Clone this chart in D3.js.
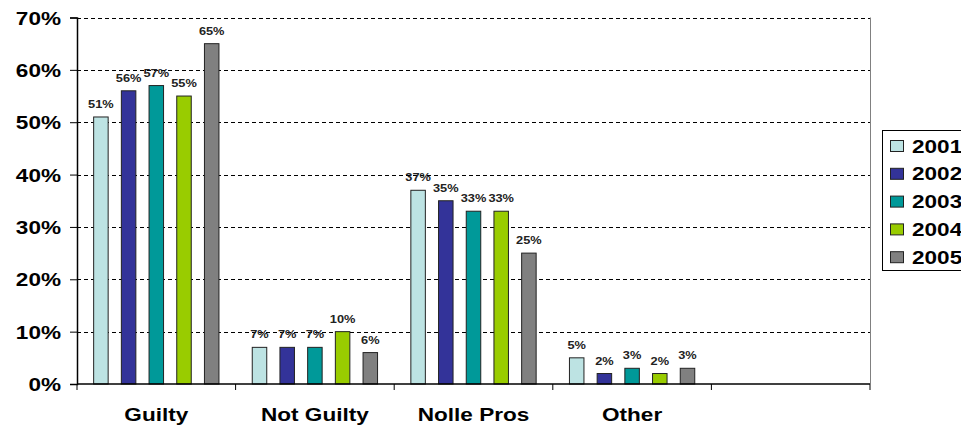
<!DOCTYPE html>
<html><head><meta charset="utf-8">
<script src="https://cdn.jsdelivr.net/npm/d3@7"></script>
<style>body{margin:0;background:#fff}svg{display:block;font-family:"Liberation Sans",Arial,sans-serif}</style>
</head><body><svg id="c" width="961" height="426"></svg>
<script>
const categories = ["Guilty","Not Guilty","Nolle Pros","Other",""];
const years = ["2001","2002","2003","2004","2005"];
const v2001 = [51,7,37,5,null];
const v2002 = [56,7,35,2,null];
const v2003 = [57,7,33,3,null];
const v2004 = [55,10,33,2,null];
const v2005 = [65,6,25,3,null];
const yTicks = [0,10,20,30,40,50,60,70];
const colors = ["#BDE3E3","#333399","#009999","#99CC00","#808080"];
const series = [v2001,v2002,v2003,v2004,v2005];

const K = 1.22; // horizontal text stretch
function stretch(sel){
  sel.each(function(){
    const t = d3.select(this);
    const x = +t.attr("x")||0, y = +t.attr("y")||0;
    t.attr("transform",`translate(${x},${y}) scale(${K},1)`).attr("x",0).attr("y",0);
  });
}

const svg = d3.select("#c");
const L=77, R=870, T=17.5, B=384;
const x = d3.scaleBand().domain(categories.map((c,i)=>i)).range([L,R]).padding(0);
const y = d3.scaleLinear().domain([0,70]).range([B,T]);
const pitch = 27.7, bw = 14.5;

// gridlines
svg.append("g").selectAll("line").data(yTicks.filter(t=>t>0)).join("line")
  .attr("x1",L).attr("x2",R).attr("y1",d=>Math.round(y(d))+0.5).attr("y2",d=>Math.round(y(d))+0.5)
  .attr("stroke","#000").attr("stroke-width",1).attr("stroke-dasharray","4,3");
// right border
svg.append("line").attr("x1",R+0.5).attr("x2",R+0.5).attr("y1",T).attr("y2",B).attr("stroke","#808080");

// y axis
const ya = svg.append("g").attr("transform",`translate(${L},0)`)
  .call(d3.axisLeft(y).tickValues(yTicks).tickFormat(d=>d+"%").tickSize(7).tickPadding(9));
ya.select(".domain").attr("stroke","#000").attr("stroke-width",1.5);
ya.selectAll("text").attr("font-size",18.5).attr("font-weight","bold").attr("fill","#000").attr("dy","0.36em")
  .style("font-family",'"Liberation Sans",Arial,sans-serif');
stretch(ya.selectAll("text"));

// bars
series.forEach((s,si)=>{
  const g = svg.append("g");
  const data = s.map((v,i)=>({v,i})).filter(d=>d.v!=null);
  g.selectAll("rect").data(data).join("rect")
    .attr("x",d=>x(d.i)+x.bandwidth()/2+(si-2)*pitch-bw/2)
    .attr("width",bw)
    .attr("y",d=>y(d.v)).attr("height",d=>B-y(d.v))
    .attr("fill",colors[si]).attr("stroke","#222").attr("stroke-width",1);
  const lab = g.selectAll("text").data(data).join("text")
    .attr("x",d=>x(d.i)+x.bandwidth()/2+(si-2)*pitch)
    .attr("y",d=>y(d.v)-9)
    .attr("text-anchor","middle").attr("font-size",10.5).attr("font-weight","bold").attr("fill","#222")
    .text(d=>d.v+"%");
  stretch(lab);
});

// x axis
const xa = svg.append("g").attr("transform",`translate(0,${B})`);
xa.append("line").attr("x1",L).attr("x2",R).attr("stroke","#000").attr("stroke-width",1.5);
xa.selectAll(".tk").data(d3.range(categories.length+1)).join("line").attr("class","tk")
  .attr("x1",i=>L+i*x.bandwidth()).attr("x2",i=>L+i*x.bandwidth()).attr("y1",0).attr("y2",6)
  .attr("stroke","#000");
const xl = xa.selectAll("text").data(categories.map((c,i)=>({c,i}))).join("text")
  .attr("x",d=>x(d.i)+x.bandwidth()/2).attr("y",37)
  .attr("text-anchor","middle").attr("font-size",18.5).attr("font-weight","bold").attr("fill","#000")
  .text(d=>d.c);
stretch(xl);

// legend
const lg = svg.append("g");
lg.append("rect").attr("x",882.5).attr("y",130.5).attr("width",100).attr("height",140)
  .attr("fill","#fff").attr("stroke","#000");
years.forEach((yr,i)=>{
  const cy = 146 + i*27.8;
  lg.append("rect").attr("x",890.5).attr("y",cy-5.5).attr("width",13).attr("height",11)
    .attr("fill",colors[i]).attr("stroke","#222");
  const t = lg.append("text").attr("x",912).attr("y",cy).attr("dy","0.36em")
    .attr("font-size",18.5).attr("font-weight","bold").attr("fill","#000").text(yr);
  stretch(t);
});
</script></body></html>
